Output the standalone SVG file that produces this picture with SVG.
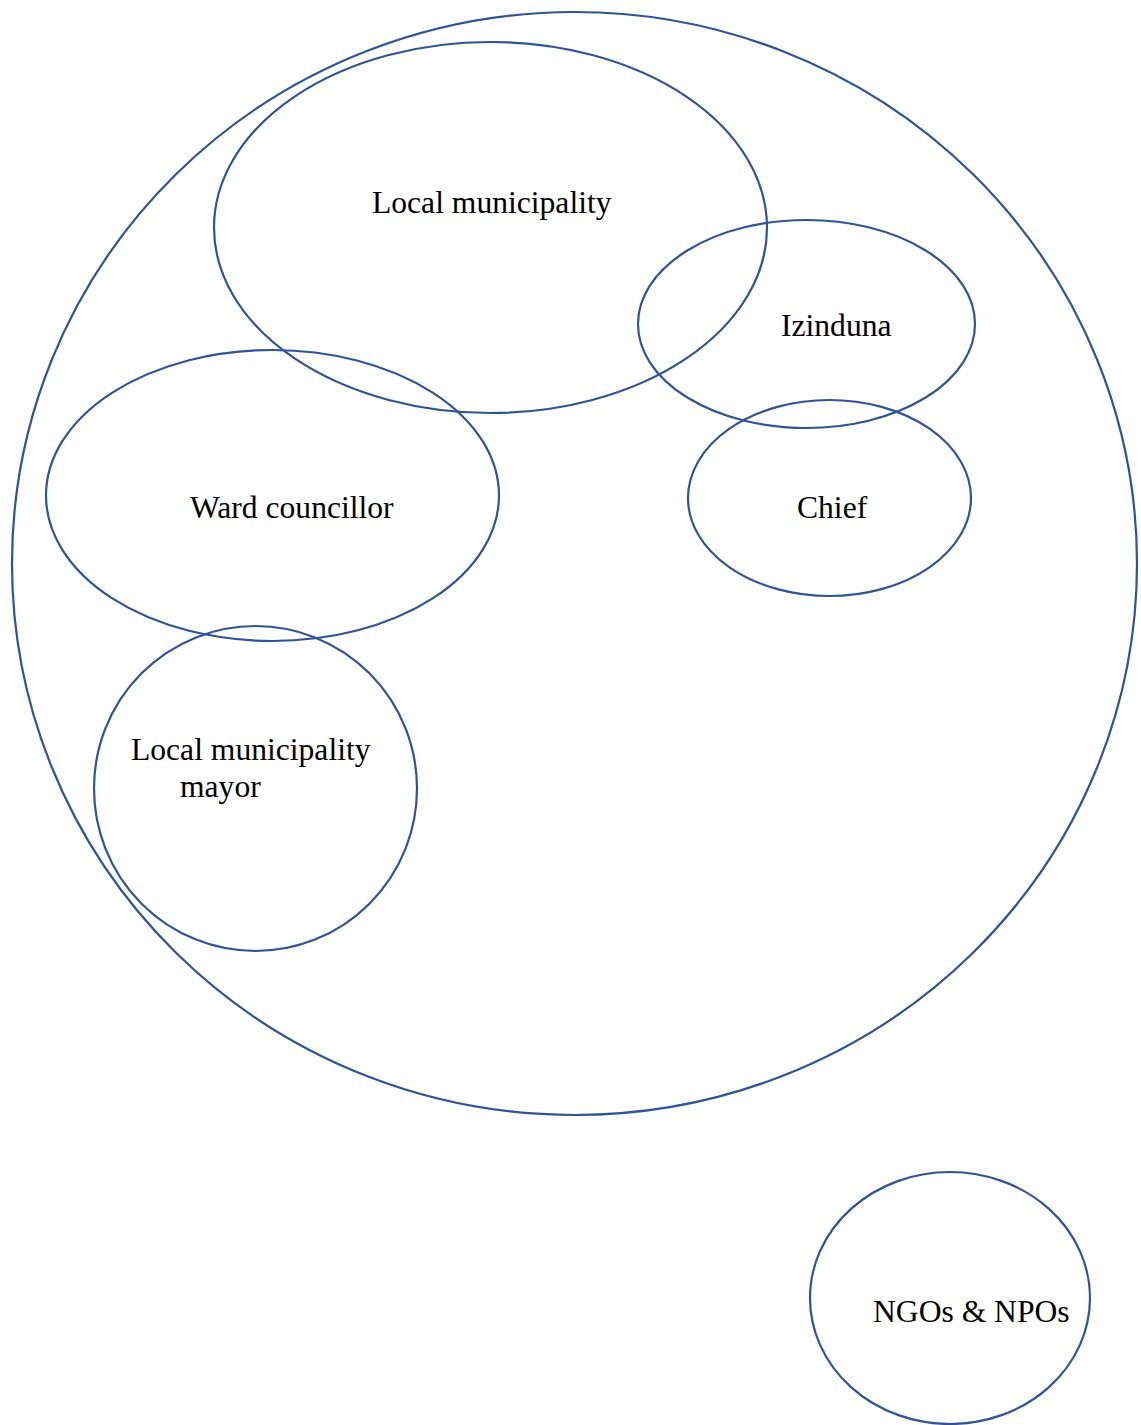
<svg xmlns="http://www.w3.org/2000/svg" width="1141" height="1425" viewBox="0 0 1141 1425">
  <style>
    .shape { fill: none; stroke: #2F5496; stroke-width: 2.2; }
    .label { font-family: "Liberation Serif", "Times New Roman", serif; font-size: 31.6px; fill: #000; }
  </style>
  <rect width="1141" height="1425" fill="#fff"/>
  <g id="community">
    <ellipse class="shape" cx="574.5" cy="563.5" rx="562.5" ry="551.5"/>
  </g>
  <g id="local-municipality">
    <ellipse class="shape" cx="490.5" cy="227.5" rx="276.5" ry="185.5"/>
    <text class="label" x="372" y="213">Local municipality</text>
  </g>
  <g id="izinduna">
    <ellipse class="shape" cx="806.5" cy="324" rx="168.5" ry="104"/>
    <text class="label" x="781" y="336">Izinduna</text>
  </g>
  <g id="chief">
    <ellipse class="shape" cx="829.5" cy="498" rx="141.5" ry="98"/>
    <text class="label" x="797" y="518">Chief</text>
  </g>
  <g id="ward-councillor">
    <ellipse class="shape" cx="272.5" cy="495.5" rx="226.5" ry="145.5"/>
    <text class="label" x="190" y="518">Ward councillor</text>
  </g>
  <g id="mayor">
    <ellipse class="shape" cx="255.5" cy="788.5" rx="161.5" ry="162.5"/>
    <text class="label" x="131" y="760">Local municipality</text>
    <text class="label" x="180" y="797">mayor</text>
  </g>
  <g id="ngos-npos">
    <ellipse class="shape" cx="950" cy="1298" rx="140" ry="126"/>
    <text class="label" x="873" y="1322">NGOs &amp; NPOs</text>
  </g>
  <g id="connectors"/>
</svg>
